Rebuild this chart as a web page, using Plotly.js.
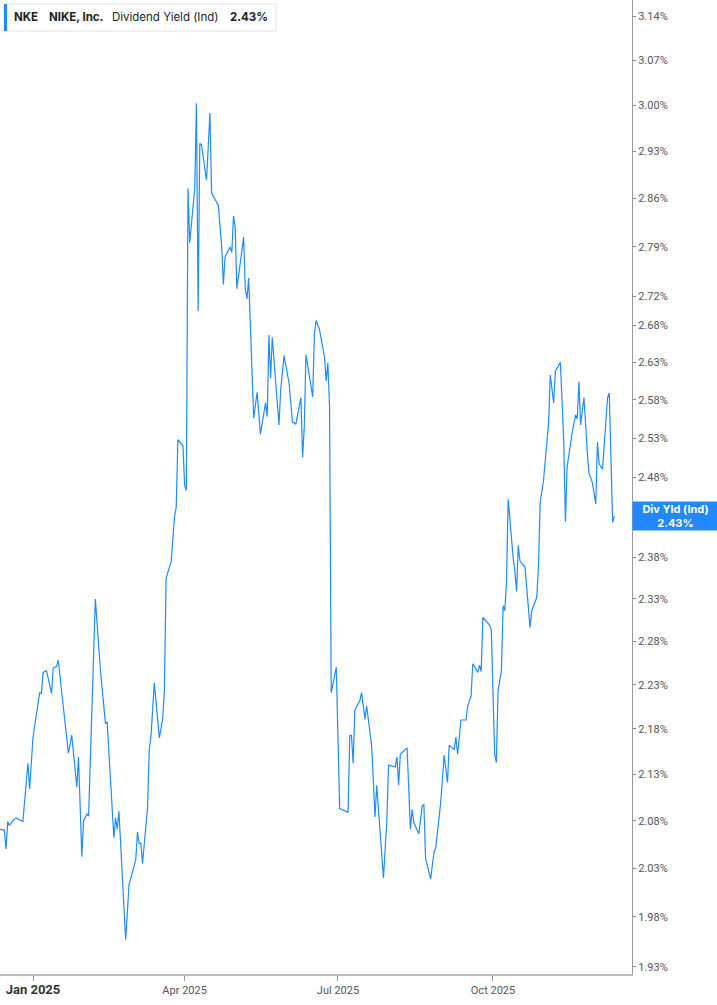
<!DOCTYPE html>
<html>
<head>
<meta charset="utf-8">
<script src="https://cdn.plot.ly/plotly-3.0.1.min.js"></script>
<style>
  html, body { margin: 0; padding: 0; background: #fff; }
  #chart { width: 717px; height: 1005px; }
</style>
</head>
<body>
<div id="chart"></div>
<script>
const DATES = [
  '2024-12-12', '2024-12-15', '2024-12-16', '2024-12-17', '2024-12-18', '2024-12-20', '2024-12-22', '2024-12-26',
  '2024-12-29', '2024-12-30', '2025-01-01', '2025-01-05', '2025-01-06', '2025-01-07', '2025-01-09', '2025-01-12',
  '2025-01-13', '2025-01-15', '2025-01-16', '2025-01-20', '2025-01-22', '2025-01-24', '2025-01-27', '2025-01-28',
  '2025-01-30', '2025-01-31', '2025-02-02', '2025-02-03', '2025-02-07', '2025-02-10', '2025-02-13', '2025-02-14',
  '2025-02-18', '2025-02-19', '2025-02-20', '2025-02-21', '2025-02-25', '2025-02-27', '2025-03-03', '2025-03-04',
  '2025-03-05', '2025-03-06', '2025-03-07', '2025-03-10', '2025-03-11', '2025-03-12', '2025-03-14', '2025-03-17',
  '2025-03-19', '2025-03-20', '2025-03-21', '2025-03-24', '2025-03-26', '2025-03-27', '2025-03-28', '2025-03-31',
  '2025-04-01', '2025-04-02', '2025-04-03', '2025-04-04', '2025-04-07', '2025-04-08', '2025-04-09', '2025-04-10',
  '2025-04-11', '2025-04-14', '2025-04-16', '2025-04-17', '2025-04-21', '2025-04-23', '2025-04-24', '2025-04-25',
  '2025-04-28', '2025-04-29', '2025-04-30', '2025-05-01', '2025-05-02', '2025-05-06', '2025-05-07', '2025-05-08',
  '2025-05-09', '2025-05-12', '2025-05-14', '2025-05-16', '2025-05-19', '2025-05-20', '2025-05-21', '2025-05-22',
  '2025-05-23', '2025-05-27', '2025-05-28', '2025-05-30', '2025-06-02', '2025-06-04', '2025-06-05', '2025-06-06',
  '2025-06-09', '2025-06-10', '2025-06-11', '2025-06-12', '2025-06-16', '2025-06-17', '2025-06-18', '2025-06-20',
  '2025-06-23', '2025-06-24', '2025-06-25', '2025-06-26', '2025-06-27', '2025-06-30', '2025-07-02', '2025-07-07',
  '2025-07-08', '2025-07-09', '2025-07-10', '2025-07-11', '2025-07-14', '2025-07-15', '2025-07-17', '2025-07-18',
  '2025-07-21', '2025-07-23', '2025-07-24', '2025-07-28', '2025-07-30', '2025-07-31', '2025-08-04', '2025-08-05',
  '2025-08-06', '2025-08-07', '2025-08-11', '2025-08-13', '2025-08-14', '2025-08-15', '2025-08-18', '2025-08-20',
  '2025-08-21', '2025-08-22', '2025-08-25', '2025-08-27', '2025-08-28', '2025-08-31', '2025-09-02', '2025-09-04',
  '2025-09-05', '2025-09-08', '2025-09-09', '2025-09-10', '2025-09-12', '2025-09-15', '2025-09-16', '2025-09-18',
  '2025-09-19', '2025-09-22', '2025-09-23', '2025-09-24', '2025-09-25', '2025-09-29', '2025-09-30', '2025-10-02',
  '2025-10-03', '2025-10-04', '2025-10-06', '2025-10-07', '2025-10-08', '2025-10-09', '2025-10-10', '2025-10-13',
  '2025-10-14', '2025-10-15', '2025-10-16', '2025-10-17', '2025-10-20', '2025-10-23', '2025-10-24', '2025-10-27',
  '2025-10-28', '2025-10-29', '2025-10-31', '2025-11-03', '2025-11-04', '2025-11-06', '2025-11-07', '2025-11-10',
  '2025-11-12', '2025-11-13', '2025-11-14', '2025-11-17', '2025-11-19', '2025-11-20', '2025-11-21', '2025-11-22',
  '2025-11-24', '2025-11-26', '2025-11-27', '2025-11-29', '2025-12-01', '2025-12-02', '2025-12-03', '2025-12-05',
  '2025-12-08', '2025-12-09', '2025-12-11', '2025-12-12'
]
const DIV_YIELD = [
  2.071, 2.070, 2.050, 2.079, 2.075, 2.080, 2.083, 2.079,
  2.142, 2.114, 2.171, 2.221, 2.220, 2.244, 2.246, 2.220,
  2.249, 2.251, 2.258, 2.190, 2.153, 2.173, 2.116, 2.149,
  2.042, 2.080, 2.087, 2.085, 2.330, 2.247, 2.186, 2.188,
  2.062, 2.083, 2.071, 2.090, 1.957, 2.013, 2.039, 2.068,
  2.056, 2.056, 2.035, 2.094, 2.157, 2.171, 2.232, 2.170,
  2.192, 2.225, 2.355, 2.375, 2.430, 2.442, 2.528, 2.520,
  2.470, 2.463, 2.875, 2.796, 2.875, 3.003, 2.700, 2.942,
  2.940, 2.887, 2.988, 2.868, 2.850, 2.790, 2.737, 2.776,
  2.790, 2.782, 2.835, 2.818, 2.731, 2.804, 2.730, 2.717,
  2.746, 2.556, 2.590, 2.535, 2.576, 2.558, 2.667, 2.609,
  2.664, 2.547, 2.593, 2.639, 2.602, 2.550, 2.550, 2.548,
  2.583, 2.505, 2.545, 2.640, 2.584, 2.668, 2.687, 2.675,
  2.637, 2.605, 2.629, 2.571, 2.221, 2.250, 2.093, 2.089,
  2.173, 2.173, 2.142, 2.201, 2.212, 2.221, 2.191, 2.206,
  2.161, 2.084, 2.118, 2.020, 2.080, 2.140, 2.138, 2.149,
  2.118, 2.152, 2.159, 2.071, 2.092, 2.078, 2.066, 2.096,
  2.097, 2.040, 2.019, 2.047, 2.051, 2.100, 2.151, 2.121,
  2.162, 2.157, 2.171, 2.152, 2.190, 2.190, 2.206, 2.217,
  2.254, 2.244, 2.252, 2.245, 2.308, 2.299, 2.293, 2.152,
  2.143, 2.223, 2.246, 2.322, 2.316, 2.350, 2.452, 2.379,
  2.363, 2.339, 2.395, 2.376, 2.368, 2.296, 2.316, 2.332,
  2.370, 2.448, 2.476, 2.550, 2.613, 2.576, 2.618, 2.630,
  2.525, 2.424, 2.493, 2.537, 2.560, 2.555, 2.604, 2.547,
  2.583, 2.510, 2.485, 2.473, 2.446, 2.525, 2.497, 2.490,
  2.583, 2.589, 2.423, 2.431
]
const Y_TICKS = [1.93, 1.98, 2.03, 2.08, 2.13, 2.18, 2.23, 2.28, 2.33, 2.38, 2.43, 2.48, 2.53, 2.58, 2.63, 2.68, 2.72, 2.79, 2.86, 2.93, 3.00, 3.07, 3.14]
const X_TICKS = ['2025-01-01', '2025-04-01', '2025-07-01', '2025-10-01']
const X_LABELS = ['<span style="font-size:13px;font-weight:bold;color:#333">Jan 2025</span>', 'Apr 2025', 'Jul 2025', 'Oct 2025']
// header pieces and their left edge (px)
const HEADER_TEXT = ['<b>NKE</b>', '<b>NIKE, Inc.</b>', 'Dividend Yield (Ind)', '<b>2.43%</b>']
const HEADER_X = [12, 47, 110, 228]

const LINE_BLUE = '#1e8cff'
const lastVal = DIV_YIELD[DIV_YIELD.length - 1]

let data = [
  {
    x: DATES,
    y: DIV_YIELD,
    type: 'scatter',
    mode: 'lines',
    line: { color: LINE_BLUE, width: 1.2 },
    hoverinfo: 'skip'
  }
]

let headerNotes = HEADER_TEXT.map((t, i) => ({
  xref: 'paper', yref: 'paper', x: HEADER_X[i] / 632, y: 1 - 17.5 / 974,
  xanchor: 'left', yanchor: 'middle', showarrow: false,
  text: t,
  font: { family: 'Inter, "Noto Sans", sans-serif', size: 11.5, color: '#222' }
}))

let layout = {
  width: 717,
  height: 1005,
  paper_bgcolor: '#fff',
  plot_bgcolor: '#fff',
  showlegend: false,
  font: { family: 'Roboto, "Liberation Sans", sans-serif', size: 11, color: '#555' },
  margin: { l: 0, r: 85, t: 0, b: 31 },
  xaxis: {
    type: 'date',
    range: ['2024-12-12 10:00', '2025-12-22 12:00'],
    tickvals: X_TICKS,
    ticktext: X_LABELS,
    ticks: 'outside',
    ticklen: 5,
    tickcolor: '#999',
    showgrid: false,
    zeroline: false,
    showline: true,
    linecolor: '#bbb',
    linewidth: 1.5,
    tickfont: { size: 11, color: '#555' },
    fixedrange: true
  },
  yaxis: {
    type: 'log',
    side: 'right',
    range: [Math.log10(1.923), Math.log10(3.166)],
    tickvals: Y_TICKS,
    // the 2.43% label sits under the last-value badge
    ticktext: Y_TICKS.map(v => Math.abs(v - lastVal) < 0.005 ? '' : v.toFixed(2) + '%'),
    ticks: 'outside',
    ticklen: 3,
    tickcolor: '#888',
    showgrid: false,
    zeroline: false,
    showline: true,
    linecolor: '#999',
    linewidth: 1,
    tickfont: { size: 11, color: '#555' },
    fixedrange: true
  },
  shapes: [
    // header box
    {
      type: 'rect', xref: 'paper', yref: 'paper',
      x0: 4 / 632, x1: 276 / 632, y0: 1 - 31 / 974, y1: 1 - 4 / 974,
      line: { color: '#e3e3e3', width: 1 }, fillcolor: '#fff', layer: 'above'
    },
    {
      type: 'rect', xref: 'paper', yref: 'paper',
      x0: 4 / 632, x1: 7 / 632, y0: 1 - 31 / 974, y1: 1 - 4 / 974,
      line: { width: 0 }, fillcolor: LINE_BLUE, layer: 'above'
    }
  ],
  annotations: headerNotes.concat([
    {
      xref: 'paper', yref: 'y', x: 1, y: Math.log10(lastVal),
      xanchor: 'left', yanchor: 'middle', showarrow: false,
      text: '<b>Div Yld (Ind)</b><br><b>' + lastVal.toFixed(2) + '%</b>',
      font: { family: 'Inter, "Noto Sans", sans-serif', size: 11, color: '#fff' },
      bgcolor: '#2288ff', borderpad: 2, width: 81, height: 24, align: 'center'
    }
  ])
}

let config = { displayModeBar: false, responsive: false, staticPlot: true }
Plotly.newPlot('chart', data, layout, config)
</script>
</body>
</html>
